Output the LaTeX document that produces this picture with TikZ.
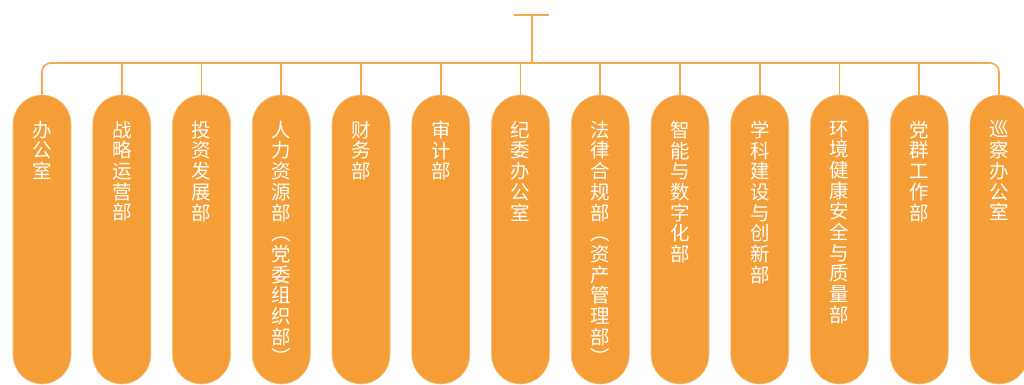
\documentclass[tikz,border=0pt]{standalone}
\usepackage{fontspec}
\newfontfamily\cjk{Noto Sans CJK SC}
\usetikzlibrary{positioning}

\definecolor{pillorange}{HTML}{F59E37}
\definecolor{lineorange}{HTML}{F6AA4E}
\newcommand{\deptfont}{\cjk\fontsize{19.5pt}{20.7pt}\selectfont}

\tikzset{
    dept/.style={fill=pillorange, draw=pillorange!60!white, line width=0.6pt,
        rounded corners=29pt, minimum width=58pt, minimum height=289pt, inner sep=0pt},
    deptname/.style={text=white, align=center, inner sep=0pt, font=\deptfont},
    wire/.style={draw=lineorange, line width=1.7pt}
}

\begin{document}
\begin{tikzpicture}[x=1pt, y=-1pt, node distance=26pt]
    \useasboundingbox (0,0) rectangle (1024,385);

    % departments
    \foreach \i/\name in {1/{办\\公\\室}, 2/{战\\略\\运\\营\\部}, 3/{投\\资\\发\\展\\部},
        4/{人\\力\\资\\源\\部\\︵\\党\\委\\组\\织\\部\\︶}, 5/{财\\务\\部}, 6/{审\\计\\部},
        7/{纪\\委\\办\\公\\室}, 8/{法\\律\\合\\规\\部\\︵\\资\\产\\管\\理\\部\\︶},
        9/{智\\能\\与\\数\\字\\化\\部}, 10/{学\\科\\建\\设\\与\\创\\新\\部},
        11/{环\\境\\健\\康\\安\\全\\与\\质\\量\\部}, 12/{党\\群\\工\\作\\部},
        13/{巡\\察\\办\\公\\室}}{
        \node[dept] (p\i) at ({42+(\i-1)*79.75}, 239.5) {};
        \node[deptname, below=of p\i.north] (t\i) {\name};
        \coordinate (b\i) at ({42+(\i-1)*79.75}, 63);
    }

    % head and bus
    \coordinate (head) at (532,15);
    \coordinate (headL) at (514,15);
    \coordinate (headR) at (549,15);
    \coordinate (join) at (532,63);
    \draw[wire] (headL) -- (headR);
    \draw[wire] (head) -- (join);
    \draw[wire, rounded corners=9pt] (p1.north) -- (b1) -- (b13) -- (p13.north);
    \foreach \i in {2,...,12}
        \draw[wire] (b\i) -- (p\i.north);
\end{tikzpicture}
\end{document}
